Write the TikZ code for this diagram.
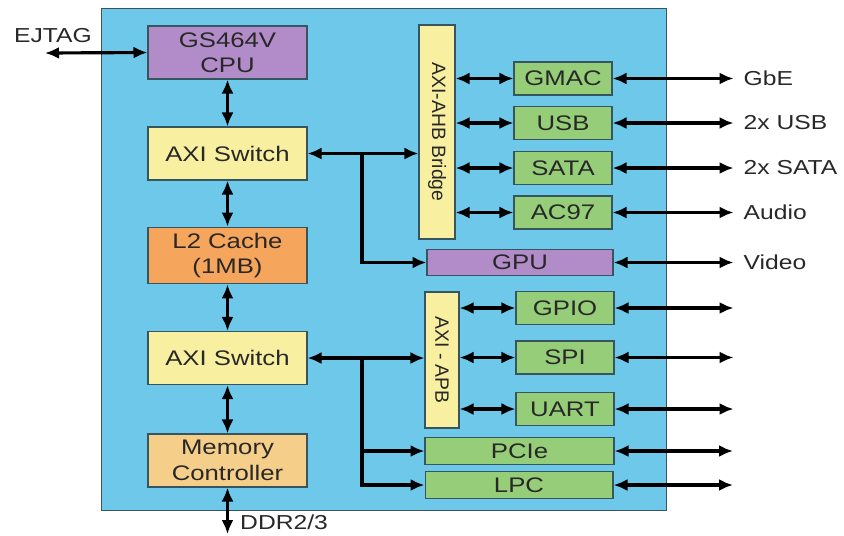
\documentclass[tikz,border=0pt]{standalone}
\usepackage{fontspec}
\setmainfont{Liberation Sans}[FakeStretch=1.22]
\newfontfamily\rotfont{Liberation Sans}
\usetikzlibrary{positioning,arrows.meta,calc}

\definecolor{chipblue}{RGB}{110,200,234}
\definecolor{edgegray}{RGB}{55,85,95}
\definecolor{cpupurple}{RGB}{178,140,200}
\definecolor{switchyellow}{RGB}{248,240,160}
\definecolor{cacheorange}{RGB}{246,166,92}
\definecolor{memtan}{RGB}{245,207,138}
\definecolor{periphgreen}{RGB}{150,205,120}
\definecolor{labeltext}{RGB}{40,40,40}

\tikzset{
    % Chip outline
    chip/.style={
        draw=edgegray,
        fill=chipblue,
        line width=0.6pt
    },
    % Core blocks in the left column
    coreblock/.style={
        draw=edgegray,
        line width=0.6pt,
        minimum width=3.18cm,
        minimum height=1.06cm,
        align=center,
        text=labeltext,
        font=\fontsize{12}{14.5}\selectfont
    },
    % Peripheral boxes
    periph/.style={
        draw=edgegray,
        fill=periphgreen,
        line width=0.6pt,
        minimum width=1.96cm,
        minimum height=0.66cm,
        text=labeltext,
        font=\fontsize{12}{14.5}\selectfont
    },
    % Tall bridge bars
    bridge/.style={
        draw=edgegray,
        fill=switchyellow,
        line width=0.6pt,
        inner sep=0pt
    },
    % Rotated bridge text
    bridgetext/.style={
        rotate=-90,
        text=labeltext,
        font=\rotfont\fontsize{11}{13}\selectfont
    },
    % Outside labels
    extlabel/.style={
        anchor=west,
        text=labeltext,
        font=\fontsize{11.5}{13}\selectfont
    },
    % Bus arrows
    bus/.style={
        {Latex[length=2.8mm,width=2.4mm]}-{Latex[length=2.8mm,width=2.4mm]},
        line width=1.8pt,
        black
    },
    % Branch arrows
    branch/.style={
        -{Latex[length=2.8mm,width=2.4mm]},
        line width=1.8pt,
        black
    }
}

\begin{document}
\begin{tikzpicture}[x=0.02cm,y=-0.02cm]
\useasboundingbox (0,0) rectangle (844,535);

% ==================== CHIP OUTLINE ====================
\node[chip, minimum width=11.32cm, minimum height=10.06cm, inner sep=0pt] (chip) at (384,259.5) {};

% ==================== LEFT COLUMN ====================
\node[coreblock, fill=cpupurple] (cpu) at (227.5,52.5) {GS464V\\CPU};
\node[coreblock, fill=switchyellow] (switchA) at (227.5,153.5) {AXI Switch};
\node[coreblock, fill=cacheorange] (cache) at (227.5,255.5) {L2 Cache\\(1MB)};
\node[coreblock, fill=switchyellow] (switchB) at (227.5,358) {AXI Switch};
\node[coreblock, fill=memtan] (memctl) at (227.5,460.5) {Memory\\Controller};

\draw[bus] (cpu) -- (switchA);
\draw[bus] (switchA) -- (cache);
\draw[bus] (cache) -- (switchB);
\draw[bus] (switchB) -- (memctl);

% EJTAG and DDR
\coordinate (ejtag) at (45,53);
\node[extlabel] (ejtaglbl) at (8,36) {EJTAG};
\draw[bus] (ejtag) -- (cpu.west);

\coordinate (ddr) at (227.5,534);
\node[extlabel] (ddrlbl) at (234,522) {DDR2/3};
\draw[bus] (memctl.south) -- (ddr);

% ==================== AHB SIDE ====================
\node[bridge, minimum width=0.72cm, minimum height=4.28cm] (ahb) at (437,132) {};
\node[bridgetext] at (ahb.center) {AXI-AHB Bridge};

\node[periph] (gmac) at (563,78.5) {GMAC};
\node[periph] (usb) at (563,123) {USB};
\node[periph] (sata) at (563,168) {SATA};
\node[periph] (ac97) at (563,212.5) {AC97};
\node[periph, minimum width=3.72cm, minimum height=0.5cm, fill=cpupurple] (gpu) at (520,262.5) {GPU};

\draw[bus] (switchA.east) -- (switchA.east -| ahb.west);
\draw[branch] (switchA.east -| 362,0) |- (gpu.west);

\foreach \dev/\txt in {gmac/GbE, usb/2x USB, sata/2x SATA, ac97/Audio} {
    \draw[bus] (ahb.east |- \dev.west) -- (\dev.west);
    \coordinate (\dev out) at ($(\dev.east) + (121,0)$);
    \draw[bus] (\dev.east) -- (\dev out);
    \node[extlabel] at ($(\dev out) + (4,0)$) {\txt};
}
\coordinate (gpuout) at ($(gpu.east) + (120,0)$);
\draw[bus] (gpu.east) -- (gpuout);
\node[extlabel] at ($(gpuout) + (4,0)$) {Video};

% ==================== APB SIDE ====================
\node[bridge, minimum width=0.68cm, minimum height=2.72cm] (apb) at (442,360) {};
\node[bridgetext] at (apb.center) {AXI - APB};

\node[periph] (gpio) at (565,308) {GPIO};
\node[periph] (spi) at (565,357.5) {SPI};
\node[periph] (uart) at (565,409) {UART};
\node[periph, minimum width=3.78cm, minimum height=0.48cm] (pcie) at (519.5,451) {PCIe};
\node[periph, minimum width=3.76cm, minimum height=0.52cm] (lpc) at (519,485) {LPC};

\draw[bus] (switchB.east) -- (switchB.east -| apb.west);
\draw[branch] (switchB.east -| 362,0) |- (lpc.west);
\draw[branch] (pcie.west -| 362,0) -- (pcie.west);

\foreach \dev in {gpio, spi, uart} {
    \draw[bus] (apb.east |- \dev.west) -- (\dev.west);
    \coordinate (\dev out) at ($(\dev.east) + (119,0)$);
    \draw[bus] (\dev.east) -- (\dev out);
}
\foreach \dev in {pcie, lpc} {
    \coordinate (\dev out) at (733,0 |- \dev.east);
    \draw[bus] (\dev.east) -- (\dev out);
}

\end{tikzpicture}
\end{document}
